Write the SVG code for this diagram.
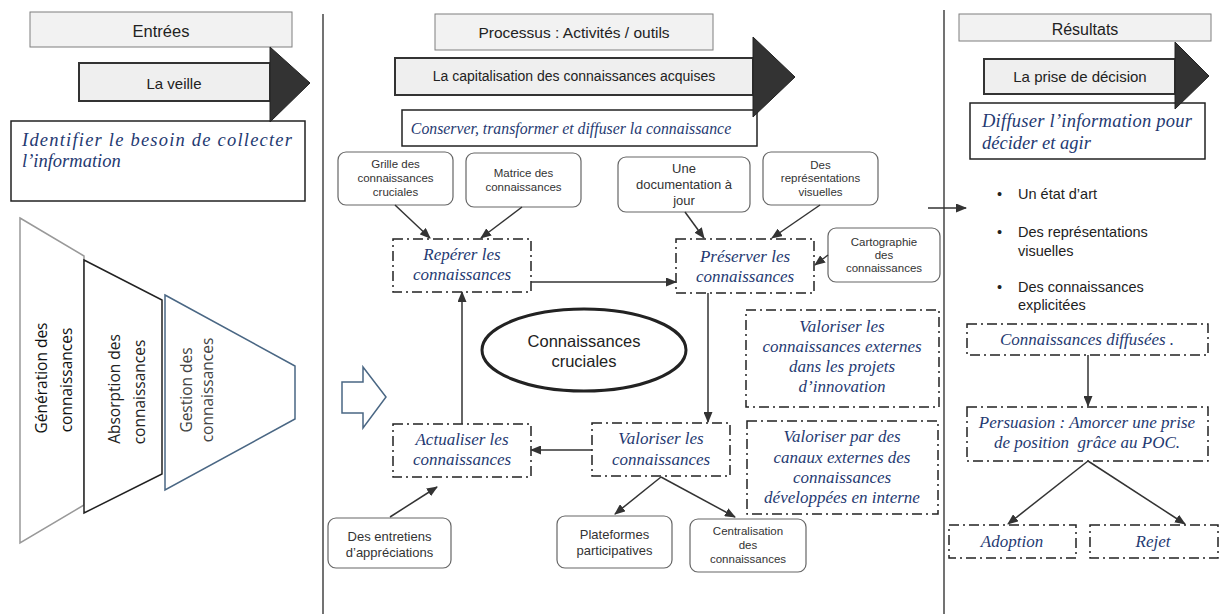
<svg xmlns="http://www.w3.org/2000/svg" width="1219" height="614" viewBox="0 0 1219 614">
<defs>
<marker id="ah" markerUnits="userSpaceOnUse" markerWidth="11" markerHeight="9" refX="10" refY="4.5" orient="auto">
<path d="M0,0 L11,4.5 L0,9 z" fill="#333"/>
</marker>
<style>
.hdr{fill:#f2f2f2;stroke:#7f7f7f;stroke-width:1}
.body{fill:#efefef;stroke:#333;stroke-width:2}
.head{fill:#333;stroke:#222;stroke-width:1}
.box{fill:#fff;stroke:#222;stroke-width:1.5}
.dd{fill:#fff;stroke:#222;stroke-width:1.5;stroke-dasharray:10 4 2 4}
.rr{fill:#fff;stroke:#666;stroke-width:1.2}
.sans{font-family:"Liberation Sans",Arial,sans-serif;fill:#222}
.sm{font-family:"Liberation Sans",Arial,sans-serif;fill:#333;font-size:11.5px;text-anchor:middle}
.md{font-family:"Liberation Sans",Arial,sans-serif;fill:#333;font-size:13px;text-anchor:middle}
.it{font-family:"Liberation Serif","Times New Roman",serif;font-style:italic;fill:#1f3a72;font-size:18.5px}
.itc{font-family:"Liberation Serif","Times New Roman",serif;font-style:italic;fill:#1f3a72;font-size:17px;text-anchor:middle}
.fun{font-family:"Open Sans",sans-serif;font-size:15.5px;text-anchor:middle}
.sep{stroke:#444;stroke-width:1.5}
#connectors line{stroke:#333;stroke-width:1.5;marker-end:url(#ah)}
</style>
</defs>
<rect width="1219" height="614" fill="#fff"/>

<g id="separators">
<line class="sep" x1="323" y1="14" x2="323" y2="614"/>
<line class="sep" x1="944" y1="10" x2="944" y2="614"/>
</g>

<!-- Column 1 -->
<g id="entrees">
<rect class="hdr" x="30" y="12" width="262" height="35"/>
<text class="sans" x="161" y="37" font-size="16.5" text-anchor="middle">Entrées</text>
</g>
<g id="identifier">
<rect class="box" x="11" y="121" width="294" height="80"/>
<text class="it" x="22" y="146" textLength="270" lengthAdjust="spacing">Identifier le besoin de collecter</text>
<text class="it" x="22" y="167">l’information</text>
</g>
<g id="veille">
<rect class="body" x="79" y="63" width="191" height="38"/>
<polygon class="head" points="270,47 310,83 270,122"/>
<text class="sans" x="174" y="89" font-size="15" text-anchor="middle">La veille</text>
</g>

<g id="funnel">
<polygon points="20,218 84,256 84,505 20,543" fill="#fff" stroke="#999" stroke-width="1.5"/>
<polygon points="84,260 162,300 162,474 84,513" fill="#fff" stroke="#222" stroke-width="1.5"/>
<polygon points="165,295 295,366 295,419 165,490" fill="#fff" stroke="#4a6784" stroke-width="1.5"/>
<text class="fun" fill="#111" transform="translate(47,378) rotate(-90)">Génération des</text>
<text class="fun" fill="#111" transform="translate(72,380) rotate(-90)">connaissances</text>
<text class="fun" fill="#222" transform="translate(120,389) rotate(-90)">Absorption des</text>
<text class="fun" fill="#222" transform="translate(145,392) rotate(-90)">connaissances</text>
<text class="fun" fill="#444" transform="translate(192,390) rotate(-90)">Gestion des</text>
<text class="fun" fill="#444" transform="translate(213,390) rotate(-90)">connaissances</text>
</g>

<!-- Column 2 -->
<g id="processus">
<rect class="hdr" x="435" y="14" width="278" height="36"/>
<text class="sans" x="574" y="38" font-size="15.5" text-anchor="middle">Processus : Activités / outils</text>
</g>
<g id="conserver">
<rect class="box" x="402" y="110" width="355" height="36"/>
<text class="itc" x="571" y="134" style="font-size:15.8px">Conserver, transformer et diffuser la connaissance</text>
</g>
<g id="capitalisation">
<rect class="body" x="395" y="58" width="358" height="37"/>
<polygon class="head" points="753,37 795,77 753,117"/>
<text class="sans" x="574" y="81" font-size="14" text-anchor="middle">La capitalisation des connaissances acquises</text>
</g>

<g id="hollow-arrow">
<polygon points="342,382 363,382 363,367 386,397 363,428 363,413 342,413" fill="#fff" stroke="#4a6784" stroke-width="1.5"/>
</g>

<g id="grille">
<rect class="rr" x="338" y="152" width="115" height="53" rx="8"/>
<text class="sm" x="395.5" y="168">Grille des</text>
<text class="sm" x="395.5" y="182">connaissances</text>
<text class="sm" x="395.5" y="196">cruciales</text>
</g>
<g id="matrice">
<rect class="rr" x="466" y="153" width="115" height="54" rx="8"/>
<text class="sm" x="523.5" y="177">Matrice des</text>
<text class="sm" x="523.5" y="191">connaissances</text>
</g>
<g id="documentation">
<rect class="rr" x="618" y="157" width="132" height="55" rx="8"/>
<text class="md" x="684" y="173">Une</text>
<text class="md" x="684" y="189">documentation à</text>
<text class="md" x="684" y="205">jour</text>
</g>
<g id="representations">
<rect class="rr" x="763" y="152" width="115" height="53" rx="8"/>
<text class="sm" x="820.5" y="169">Des</text>
<text class="sm" x="820.5" y="182">représentations</text>
<text class="sm" x="820.5" y="196">visuelles</text>
</g>
<g id="cartographie">
<rect class="rr" x="828" y="228" width="112" height="54" rx="8"/>
<text class="sm" x="884" y="246">Cartographie</text>
<text class="sm" x="884" y="259">des</text>
<text class="sm" x="884" y="272">connaissances</text>
</g>

<g id="reperer">
<rect class="dd" x="393" y="239" width="138" height="53"/>
<text class="itc" x="462" y="260">Repérer les</text>
<text class="itc" x="462" y="280">connaissances</text>
</g>
<g id="preserver">
<rect class="dd" x="676" y="239" width="138" height="54"/>
<text class="itc" x="745" y="262">Préserver les</text>
<text class="itc" x="745" y="282">connaissances</text>
</g>
<g id="cruciales">
<ellipse cx="584" cy="350" rx="102" ry="41" fill="#fff" stroke="#222" stroke-width="3"/>
<text class="sans" x="584" y="347" font-size="16.5" text-anchor="middle">Connaissances</text>
<text class="sans" x="584" y="367" font-size="16.5" text-anchor="middle">cruciales</text>
</g>
<g id="actualiser">
<rect class="dd" x="393" y="424" width="138" height="53"/>
<text class="itc" x="462" y="445">Actualiser les</text>
<text class="itc" x="462" y="465">connaissances</text>
</g>
<g id="valoriser">
<rect class="dd" x="592" y="423" width="138" height="53"/>
<text class="itc" x="661" y="444">Valoriser les</text>
<text class="itc" x="661" y="465">connaissances</text>
</g>
<g id="valoriser-externes">
<rect class="dd" x="746" y="310" width="193" height="97"/>
<text class="itc" x="842" y="332">Valoriser les</text>
<text class="itc" x="842" y="352">connaissances externes</text>
<text class="itc" x="842" y="372">dans les projets</text>
<text class="itc" x="842" y="392">d’innovation</text>
</g>
<g id="valoriser-canaux">
<rect class="dd" x="747" y="421" width="191" height="93"/>
<text class="itc" x="842" y="442">Valoriser par des</text>
<text class="itc" x="842" y="463">canaux externes des</text>
<text class="itc" x="842" y="483">connaissances</text>
<text class="itc" x="842" y="503">développées en interne</text>
</g>
<g id="entretiens">
<rect class="rr" x="328" y="518" width="123" height="50" rx="8"/>
<text class="md" x="389.5" y="541">Des entretiens</text>
<text class="md" x="389.5" y="557">d’appréciations</text>
</g>
<g id="plateformes">
<rect class="rr" x="557" y="516" width="115" height="52" rx="8"/>
<text class="md" x="614.5" y="539">Plateformes</text>
<text class="md" x="614.5" y="555">participatives</text>
</g>
<g id="centralisation">
<rect class="rr" x="690" y="519" width="116" height="53" rx="8"/>
<text class="sm" x="748" y="535">Centralisation</text>
<text class="sm" x="748" y="549">des</text>
<text class="sm" x="748" y="563">connaissances</text>
</g>

<!-- Column 3 -->
<g id="resultats">
<rect class="hdr" x="959" y="14" width="252" height="27"/>
<text class="sans" x="1085" y="35" font-size="16" text-anchor="middle">Résultats</text>
</g>
<g id="diffuser">
<rect class="box" x="970" y="103" width="235" height="56"/>
<text class="it" x="982" y="127" textLength="210" lengthAdjust="spacing">Diffuser l’information pour</text>
<text class="it" x="982" y="149">décider et agir</text>
</g>
<g id="prise">
<rect class="body" x="984" y="59" width="191" height="35"/>
<polygon class="head" points="1175,42 1209,76 1175,109"/>
<text class="sans" x="1080" y="82" font-size="15" text-anchor="middle">La prise de décision</text>
</g>
<g id="bullets">
<text class="sans" font-size="14.5" x="997" y="199">•</text>
<text class="sans" font-size="14.5" x="1018" y="199">Un état d’art</text>
<text class="sans" font-size="14.5" x="997" y="237">•</text>
<text class="sans" font-size="14.5" x="1018" y="237">Des représentations</text>
<text class="sans" font-size="14.5" x="1018" y="256">visuelles</text>
<text class="sans" font-size="14.5" x="997" y="292">•</text>
<text class="sans" font-size="14.5" x="1018" y="292">Des connaissances</text>
<text class="sans" font-size="14.5" x="1018" y="310">explicitées</text>
</g>
<g id="diffusees">
<rect class="dd" x="967" y="324" width="241" height="31"/>
<text class="itc" x="1087" y="345">Connaissances diffusées .</text>
</g>
<g id="persuasion">
<rect class="dd" x="967" y="407" width="241" height="54"/>
<text class="itc" x="1087" y="428">Persuasion : Amorcer une prise</text>
<text class="itc" x="1087" y="448" xml:space="preserve">de position  grâce au POC.</text>
</g>
<g id="adoption">
<rect class="dd" x="949" y="525" width="127" height="33"/>
<text class="itc" x="1012" y="547">Adoption</text>
</g>
<g id="rejet">
<rect class="dd" x="1090" y="525" width="128" height="33"/>
<text class="itc" x="1153" y="547">Rejet</text>
</g>

<g id="connectors">
<line x1="395" y1="205" x2="430" y2="238"/>
<line x1="522" y1="207" x2="481" y2="238"/>
<line x1="531" y1="282" x2="676" y2="282"/>
<line x1="685" y1="212" x2="704" y2="238"/>
<line x1="820" y1="205" x2="772" y2="238"/>
<line x1="828" y1="255" x2="815" y2="265"/>
<line x1="708" y1="293" x2="708" y2="422"/>
<line x1="592" y1="450" x2="531" y2="450"/>
<line x1="462" y1="424" x2="462" y2="292"/>
<line x1="390" y1="517" x2="437" y2="487"/>
<line x1="661" y1="477" x2="615" y2="514"/>
<line x1="661" y1="477" x2="735" y2="517"/>
<line x1="928" y1="208" x2="966" y2="208"/>
<line x1="1088" y1="355" x2="1088" y2="406"/>
<line x1="1088" y1="461" x2="1008" y2="524"/>
<line x1="1088" y1="461" x2="1185" y2="524"/>
</g>
</svg>
